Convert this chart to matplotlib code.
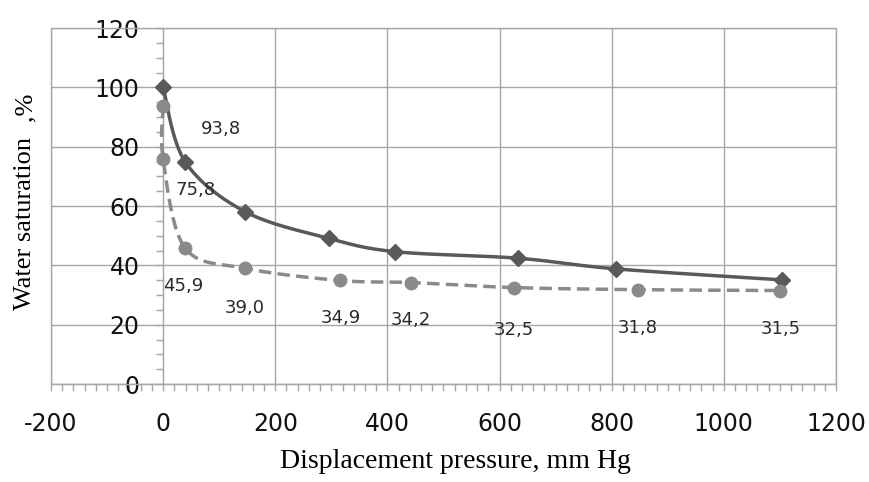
import numpy as np
import matplotlib.pyplot as plt
from matplotlib.ticker import MultipleLocator
from matplotlib.patches import Rectangle

plt.rcParams['axes.unicode_minus'] = False

# Values
pressure_a = [0, 39, 146, 295, 414, 633, 808, 1103]
saturation_a = [100, 75.0, 58.1, 49.1, 44.6, 42.4, 38.8, 35.1]

pressure_b = [0, 0, 39, 146, 315, 442, 626, 846, 1101]
saturation_b = [93.8, 75.8, 45.9, 39.0, 34.9, 34.2, 32.5, 31.8, 31.5]
labels_b = ["93,8", "75,8", "45,9", "39,0", "34,9", "34,2", "32,5", "31,8", "31,5"]

x_ticks = [-200, 0, 200, 400, 600, 800, 1000, 1200]
y_ticks = [0, 20, 40, 60, 80, 100, 120]

# where each data label sits relative to its point (pixels, right / down)
label_offsets = [(58, 23), (32, 31), (-2, 38), (0, 40), (1, 38), (0, 37), (0, 42), (0, 38), (0, 38)]

GRID = '#a6a6a6'
DARK = '#595959'
LIGHT = '#8a8a8a'


def smooth(ax, xs, ys, n=24):
    # Excel-like smoothed line: cubic bezier through the points in screen space
    pts = ax.transData.transform(np.column_stack([xs, ys]))
    P = np.vstack([pts[0], pts, pts[-1]])
    out = [pts[0]]
    t = np.linspace(0, 1, n)[1:, None]
    for i in range(1, len(P) - 2):
        p0, p1, p2, p3 = P[i - 1], P[i], P[i + 1], P[i + 2]
        c1 = p1 + (p2 - p0) / 6
        c2 = p2 - (p3 - p1) / 6
        seg = (1 - t)**3 * p1 + 3 * (1 - t)**2 * t * c1 + 3 * (1 - t) * t**2 * c2 + t**3 * p2
        out.extend(seg)
    res = ax.transData.inverted().transform(np.array(out))
    return res[:, 0], res[:, 1]


fig = plt.figure(figsize=(8.7, 4.82), dpi=100)
ax = fig.add_axes([51 / 870, 1 - 384 / 482, (836 - 51) / 870, (384 - 28) / 482])
ax.set_xlim(-200, 1200)
ax.set_ylim(0, 120)

ax.set_xticks(x_ticks)
ax.set_yticks(y_ticks)
ax.xaxis.set_minor_locator(MultipleLocator(20))
ax.yaxis.set_minor_locator(MultipleLocator(5))
ax.grid(True, which='major', color=GRID, linewidth=1.0)
ax.set_axisbelow(True)

for s in ['top', 'right']:
    ax.spines[s].set_visible(False)
ax.spines['left'].set_position(('data', 0))
ax.spines['left'].set_color(GRID)
ax.spines['bottom'].set_color(GRID)
ax.add_patch(Rectangle((0, 0), 1, 1, transform=ax.transAxes, fill=False,
                       edgecolor=GRID, linewidth=1.0, clip_on=False))

ax.tick_params(which='both', direction='out', color=GRID, length=5, width=1)
ax.tick_params(axis='y', which='major', pad=12, labelsize=17)
ax.tick_params(axis='x', which='major', pad=15, labelsize=17)
for lab in ax.get_xticklabels() + ax.get_yticklabels():
    lab.set_fontfamily('DejaVu Sans')
    lab.set_color('#111111')

# solid series
xs, ys = smooth(ax, pressure_a, saturation_a)
ax.plot(xs, ys, color=DARK, linewidth=2.5, zorder=3)
ax.plot(pressure_a, saturation_a, linestyle='none', marker='D', markersize=8,
        color=DARK, zorder=4)

# dashed series
xs, ys = smooth(ax, pressure_b, saturation_b)
ax.plot(xs, ys, color=LIGHT, linewidth=2.5, dashes=(3.6, 1.8), zorder=3)
ax.plot(pressure_b, saturation_b, linestyle='none', marker='o', markersize=9,
        color=LIGHT, zorder=4)

for x, y, t, (dx, dy) in zip(pressure_b, saturation_b, labels_b, label_offsets):
    ax.annotate(t, (x, y), xytext=(dx, -dy), textcoords='offset pixels',
                ha='center', va='center', fontsize=13, color='#2a2a2a',
                family='DejaVu Sans', zorder=5)

fig.text(455 / 870, 1 - 461 / 482, 'Displacement pressure, mm Hg',
         ha='center', va='center', fontsize=20, family='Liberation Serif')
fig.text(25 / 870, 1 - 224 / 482, 'Water saturation', rotation=90,
         ha='center', va='center', fontsize=19, family='Liberation Serif')
fig.text(25 / 870, 1 - 107 / 482, ',%', rotation=90,
         ha='center', va='center', fontsize=19, family='Liberation Serif')

fig.savefig('out.png', dpi=100)
